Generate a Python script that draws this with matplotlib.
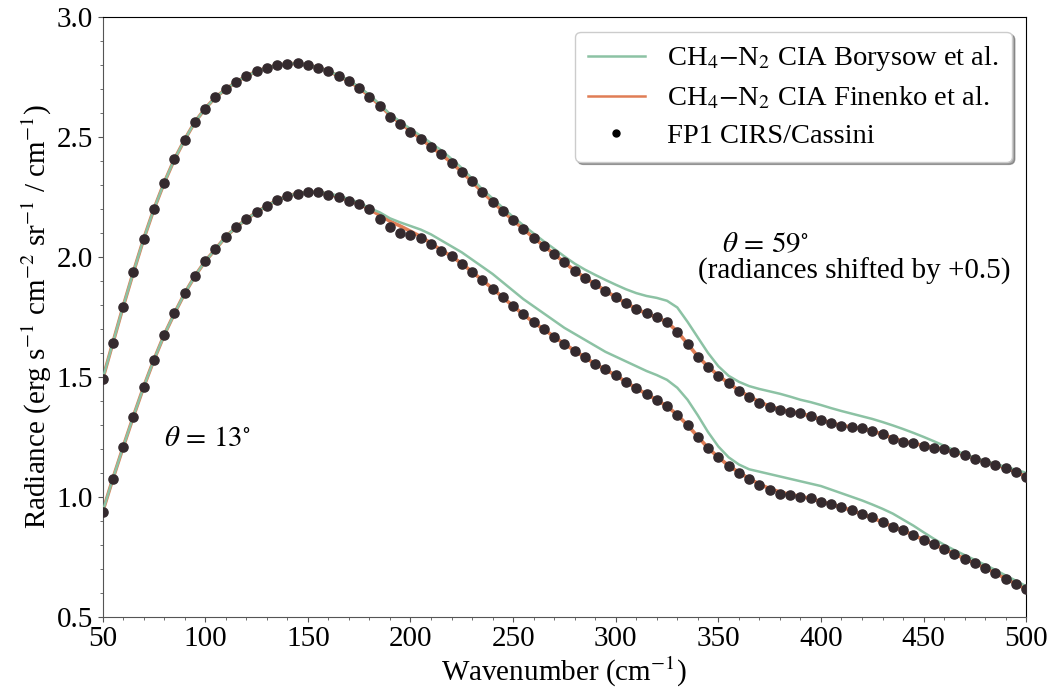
import numpy as np
import matplotlib
matplotlib.use('Agg')
import matplotlib.pyplot as plt
from matplotlib.ticker import MultipleLocator

plt.rcParams['font.family'] = ['Liberation Serif', 'DejaVu Serif']
plt.rcParams['mathtext.fontset'] = 'stix'

wavenumber = np.arange(50, 501, 5)

# theta = 13 deg
obs_13 = [0.937, 1.075, 1.207, 1.335, 1.458, 1.571, 1.675, 1.765, 1.849, 1.921,
          1.983, 2.033, 2.085, 2.124, 2.158, 2.187, 2.214, 2.237, 2.255, 2.265,
          2.270, 2.270, 2.261, 2.249, 2.236, 2.221, 2.199, 2.161, 2.125, 2.101,
          2.092, 2.078, 2.054, 2.027, 2.004, 1.973, 1.939, 1.904, 1.869, 1.832,
          1.796, 1.761, 1.728, 1.699, 1.668, 1.638, 1.610, 1.582, 1.554, 1.532,
          1.508, 1.480, 1.453, 1.429, 1.404, 1.379, 1.342, 1.300, 1.251, 1.203,
          1.165, 1.129, 1.101, 1.075, 1.050, 1.029, 1.013, 1.006, 1.001, 0.995,
          0.980, 0.970, 0.957, 0.943, 0.928, 0.915, 0.893, 0.876, 0.860, 0.842,
          0.821, 0.803, 0.782, 0.762, 0.741, 0.723, 0.705, 0.682, 0.658, 0.637,
          0.615]
borysow_13 = [0.937, 1.075, 1.207, 1.335, 1.458, 1.571, 1.675, 1.765, 1.849, 1.921,
              1.983, 2.033, 2.085, 2.124, 2.158, 2.187, 2.214, 2.237, 2.255, 2.266,
              2.272, 2.272, 2.266, 2.256, 2.243, 2.228, 2.205, 2.187, 2.162, 2.145,
              2.130, 2.115, 2.095, 2.070, 2.045, 2.020, 1.990, 1.960, 1.930, 1.895,
              1.860, 1.825, 1.795, 1.765, 1.735, 1.705, 1.680, 1.655, 1.630, 1.605,
              1.585, 1.565, 1.545, 1.525, 1.508, 1.488, 1.455, 1.405, 1.340, 1.270,
              1.210, 1.165, 1.135, 1.115, 1.105, 1.095, 1.085, 1.075, 1.065, 1.055,
              1.045, 1.030, 1.015, 1.000, 0.985, 0.968, 0.950, 0.930, 0.905, 0.880,
              0.852, 0.825, 0.800, 0.778, 0.757, 0.737, 0.716, 0.695, 0.672, 0.650,
              0.627]
finenko_13 = [0.937, 1.075, 1.207, 1.335, 1.458, 1.571, 1.675, 1.765, 1.849, 1.921,
              1.983, 2.033, 2.085, 2.124, 2.158, 2.187, 2.214, 2.237, 2.255, 2.266,
              2.271, 2.271, 2.263, 2.251, 2.238, 2.222, 2.200, 2.175, 2.150, 2.130,
              2.108, 2.086, 2.058, 2.029, 2.004, 1.973, 1.939, 1.904, 1.869, 1.832,
              1.796, 1.761, 1.728, 1.699, 1.668, 1.638, 1.610, 1.582, 1.554, 1.531,
              1.507, 1.480, 1.453, 1.429, 1.404, 1.378, 1.342, 1.299, 1.251, 1.204,
              1.165, 1.130, 1.102, 1.076, 1.053, 1.034, 1.020, 1.010, 1.002, 0.993,
              0.980, 0.969, 0.957, 0.943, 0.928, 0.913, 0.894, 0.876, 0.859, 0.841,
              0.821, 0.802, 0.782, 0.762, 0.742, 0.723, 0.704, 0.682, 0.659, 0.637,
              0.615]

# theta = 59 deg, radiances shifted by +0.5
obs_59 = [1.490, 1.642, 1.793, 1.937, 2.075, 2.200, 2.310, 2.408, 2.490, 2.564,
          2.620, 2.667, 2.700, 2.730, 2.755, 2.775, 2.790, 2.800, 2.807, 2.808,
          2.800, 2.790, 2.775, 2.755, 2.733, 2.705, 2.670, 2.630, 2.585, 2.554,
          2.523, 2.492, 2.460, 2.429, 2.394, 2.356, 2.316, 2.271, 2.232, 2.192,
          2.154, 2.117, 2.081, 2.047, 2.013, 1.978, 1.943, 1.914, 1.888, 1.860,
          1.832, 1.808, 1.783, 1.765, 1.749, 1.730, 1.689, 1.638, 1.585, 1.543,
          1.505, 1.474, 1.443, 1.418, 1.393, 1.376, 1.362, 1.355, 1.349, 1.337,
          1.321, 1.307, 1.297, 1.292, 1.286, 1.276, 1.261, 1.242, 1.230, 1.224,
          1.214, 1.205, 1.199, 1.189, 1.175, 1.158, 1.147, 1.133, 1.120, 1.105,
          1.082]
borysow_59 = [1.490, 1.642, 1.793, 1.937, 2.075, 2.200, 2.310, 2.408, 2.490, 2.564,
              2.620, 2.667, 2.700, 2.730, 2.755, 2.775, 2.790, 2.800, 2.807, 2.808,
              2.801, 2.791, 2.777, 2.758, 2.737, 2.710, 2.677, 2.638, 2.597, 2.565,
              2.535, 2.506, 2.476, 2.446, 2.410, 2.372, 2.328, 2.283, 2.245, 2.206,
              2.168, 2.133, 2.099, 2.066, 2.035, 2.003, 1.973, 1.948, 1.926, 1.905,
              1.885, 1.866, 1.850, 1.838, 1.830, 1.818, 1.790, 1.730, 1.665, 1.600,
              1.545, 1.505, 1.480, 1.462, 1.450, 1.440, 1.430, 1.418, 1.405, 1.395,
              1.383, 1.370, 1.358, 1.347, 1.336, 1.325, 1.312, 1.298, 1.283, 1.267,
              1.250, 1.232, 1.213, 1.195, 1.178, 1.163, 1.150, 1.137, 1.125, 1.113,
              1.100]
finenko_59 = [1.490, 1.642, 1.793, 1.937, 2.075, 2.200, 2.310, 2.408, 2.490, 2.564,
              2.620, 2.667, 2.700, 2.730, 2.755, 2.775, 2.790, 2.800, 2.807, 2.808,
              2.801, 2.791, 2.776, 2.756, 2.734, 2.706, 2.672, 2.634, 2.593, 2.559,
              2.527, 2.494, 2.461, 2.429, 2.394, 2.356, 2.315, 2.272, 2.232, 2.192,
              2.154, 2.117, 2.081, 2.047, 2.013, 1.978, 1.944, 1.914, 1.887, 1.860,
              1.833, 1.808, 1.784, 1.765, 1.749, 1.729, 1.690, 1.638, 1.586, 1.543,
              1.506, 1.474, 1.444, 1.419, 1.396, 1.378, 1.365, 1.356, 1.348, 1.337,
              1.322, 1.308, 1.298, 1.291, 1.285, 1.275, 1.261, 1.245, 1.232, 1.223,
              1.214, 1.206, 1.198, 1.188, 1.175, 1.160, 1.147, 1.134, 1.120, 1.104,
              1.084]

green = '#8cc2a4'
orange = '#e07d55'
dots = '#342a2e'

fig = plt.figure(figsize=(10.52, 6.98), dpi=100)
ax = fig.add_axes([0.0975, 0.1165, 0.878, 0.8585])

for fin, bor, obs in [(finenko_13, borysow_13, obs_13), (finenko_59, borysow_59, obs_59)]:
    ax.plot(wavenumber, fin, color=orange, lw=2.6, zorder=2)
    ax.plot(wavenumber, bor, color=green, lw=1.8, zorder=3)
    ax.plot(wavenumber, obs, 'o', color=dots, ms=6.6, zorder=4)

# legend entries
ax.plot([], [], color=green, lw=1.8, label=r'CH$_4$$-$N$_2$ CIA Borysow et al.')
ax.plot([], [], color=orange, lw=1.8, label=r'CH$_4$$-$N$_2$ CIA Finenko et al.')
ax.plot([], [], 'o', color='black', ms=5, label='FP1 CIRS/Cassini')

ax.text(80, 1.24, r'$\theta\,=\,13^{\circ}$', fontsize=21, va='center')
ax.text(352, 2.05, r'$\theta\,=\,59^{\circ}$', fontsize=21, va='center')
ax.text(340, 1.94, '(radiances shifted by +0.5)', fontsize=21, va='center')

ax.set_xlim(50, 500)
ax.set_ylim(0.5, 3.0)
ax.xaxis.set_major_locator(MultipleLocator(50))
ax.xaxis.set_minor_locator(MultipleLocator(10))
ax.yaxis.set_major_locator(MultipleLocator(0.5))
ax.yaxis.set_minor_locator(MultipleLocator(0.1))
ax.tick_params(labelsize=21)
for s in ['left', 'bottom']:
    ax.spines[s].set_color('#555555')
ax.tick_params(which='both', color='#555555')

ax.set_xlabel(r'Wavenumber (cm$^{-1}$)', fontsize=21, labelpad=2)
ax.set_ylabel(r'Radiance (erg s$^{-1}$ cm$^{-2}$ sr$^{-1}$ / cm$^{-1}$)', fontsize=21, labelpad=2)

ax.legend(loc='upper right', fontsize=20.5, shadow=True, fancybox=True,
          framealpha=1, borderpad=0.45, handlelength=2.0, labelspacing=0.4)

plt.savefig('out.png', dpi=100)
plt.close()
